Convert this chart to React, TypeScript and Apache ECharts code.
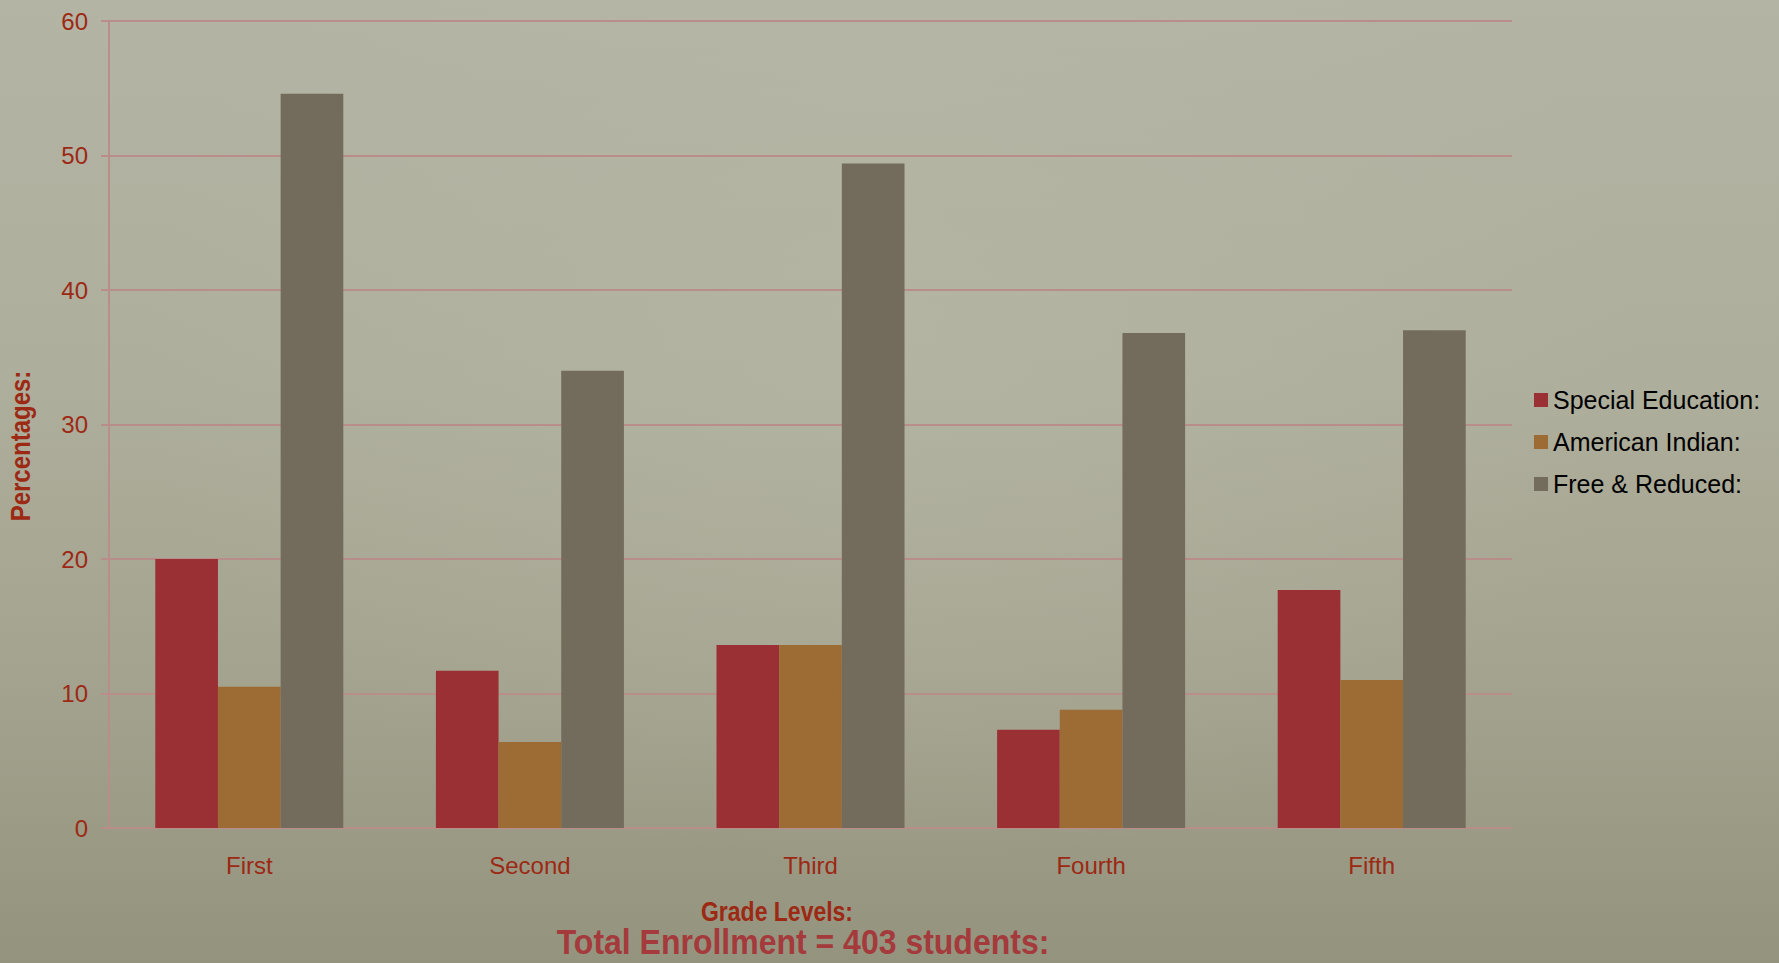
import React, { useEffect, useRef } from "react";
import * as echarts from "echarts";

const categories = ["First", "Second", "Third", "Fourth", "Fifth"];
const specialEducation = [20.0, 11.7, 13.6, 7.3, 17.7];
const americanIndian = [10.5, 6.4, 13.6, 8.8, 11.0];
const freeReduced = [54.6, 34.0, 49.4, 36.8, 37.0];
const seriesNames = ["Special Education:", "American Indian:", "Free & Reduced:"];
const yTicks = { min: 0, max: 60, interval: 10 };

const RED_TEXT = "#9c2914";
const GRID = "#b98e8a";
const FONT = "'Liberation Sans', Arial, Helvetica, sans-serif";

export default function App() {
  const ref = useRef<HTMLDivElement>(null);
  useEffect(() => {
    document.body.style.margin = "0";
    const chart = echarts.init(ref.current!, null, { renderer: "svg" });
    chart.setOption({
      animation: false,
      backgroundColor: "transparent",
      textStyle: { fontFamily: FONT },
      grid: { left: 109, right: 267, top: 21, bottom: 135, containLabel: false },
      legend: {
        orient: "vertical",
        left: 1534,
        top: 387,
        padding: 0,
        itemWidth: 14,
        itemHeight: 14,
        itemGap: 16,
        icon: "rect",
        textStyle: { color: "#000", fontSize: 25, lineHeight: 26, fontFamily: FONT },
        data: seriesNames,
      },
      xAxis: {
        type: "category",
        data: categories,
        axisLine: { show: true, lineStyle: { color: GRID, width: 2 } },
        axisTick: { show: false },
        axisLabel: { color: RED_TEXT, fontSize: 24, lineHeight: 24, margin: 25, fontFamily: FONT },
        splitLine: { show: false },
      },
      yAxis: {
        type: "value",
        min: yTicks.min,
        max: yTicks.max,
        interval: yTicks.interval,
        axisLine: { show: true, lineStyle: { color: GRID, width: 2 } },
        axisTick: { show: true, length: 8, lineStyle: { color: GRID, width: 2 } },
        axisLabel: { color: RED_TEXT, fontSize: 24, margin: 21, fontFamily: FONT },
        splitLine: { show: true, lineStyle: { color: GRID, width: 2 } },
      },
      series: [
        {
          name: seriesNames[0],
          type: "bar",
          data: specialEducation,
          itemStyle: { color: "#9a3033" },
          barGap: "0%",
          barCategoryGap: "33%",
        },
        {
          name: seriesNames[1],
          type: "bar",
          data: americanIndian,
          itemStyle: { color: "#9c6c34" },
          barGap: "0%",
          barCategoryGap: "33%",
        },
        {
          name: seriesNames[2],
          type: "bar",
          data: freeReduced,
          itemStyle: { color: "#736b5b" },
          barGap: "0%",
          barCategoryGap: "33%",
        },
      ],
      graphic: [
        {
          type: "text",
          x: 20,
          y: 446,
          rotation: Math.PI / 2,
          scaleY: 1.15,
          style: {
            text: "Percentages:",
            fill: RED_TEXT,
            font: `bold 24px ${FONT}`,
            textAlign: "center",
            textVerticalAlign: "middle",
          },
        },
        {
          type: "text",
          x: 777,
          y: 911,
          scaleY: 1.2,
          style: {
            text: "Grade Levels:",
            fill: RED_TEXT,
            font: `bold 23px ${FONT}`,
            textAlign: "center",
            textVerticalAlign: "middle",
          },
        },
        {
          type: "text",
          x: 803,
          y: 942,
          scaleY: 1.1,
          style: {
            text: "Total Enrollment = 403 students:",
            fill: "#a43a3b",
            font: `bold 32px ${FONT}`,
            textAlign: "center",
            textVerticalAlign: "middle",
          },
        },
      ],
    });
    return () => chart.dispose();
  }, []);
  return (
    <div
      style={{
        position: "absolute",
        left: 0,
        top: 0,
        width: 1779,
        height: 963,
        background:
          "radial-gradient(ellipse at 50% 35%, rgba(185,185,168,0.5) 0%, rgba(185,185,168,0) 60%), linear-gradient(180deg, #b3b4a4 0%, #aeae9c 40%, #a4a38f 70%, #94937e 100%)",
      }}
    >
      <div ref={ref} style={{ width: 1779, height: 963 }} />
    </div>
  );
}
